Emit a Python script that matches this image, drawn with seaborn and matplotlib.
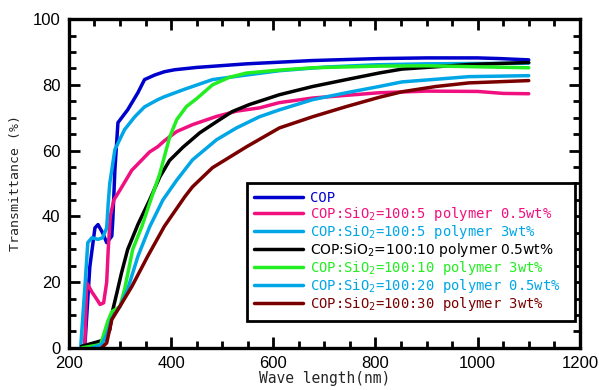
import matplotlib
matplotlib.use("Agg")
import matplotlib.pyplot as plt
import seaborn as sns
from matplotlib.ticker import MultipleLocator

# COP
cop_wl = [225, 231, 241, 251, 257, 266, 274, 284, 286, 290, 296, 315, 335, 348, 368, 387, 407, 450, 548, 677, 807, 900, 1000, 1042, 1100]
cop_t = [0, 0, 24.7, 36.5, 37.5, 35, 32, 34, 39, 54, 68.5, 72.4, 77.6, 81.6, 83, 84, 84.6, 85.3, 86.4, 87.4, 88.0, 88.2, 88.2, 88.0, 87.6]

# COP:SiO2=100:5 polymer 0.5wt%
p5a_wl = [231, 235, 245, 255, 261, 268, 274, 277, 281, 288, 300, 323, 348, 358, 374, 387, 411, 442, 489, 528, 573, 612, 677, 807, 900, 1000, 1050, 1100]
p5a_t = [0, 19.8, 17, 14.7, 13.2, 13.7, 20, 30, 40, 45, 48, 54, 58, 59.6, 61.2, 63, 65.8, 67.9, 70.4, 72, 73, 74.6, 76, 77.6, 78.1, 78, 77.4, 77.3]

# COP:SiO2=100:5 polymer 3wt%
p5b_wl = [223, 232, 237, 245, 257, 266, 274, 277, 280, 290, 309, 329, 348, 374, 387, 427, 481, 548, 612, 700, 800, 900, 1000, 1100]
p5b_t = [0, 20, 32, 33.5, 33, 33.5, 36.5, 44, 50, 60.3, 66.4, 70.3, 73.3, 75.5, 76.4, 78.7, 81.6, 83, 84.3, 85.4, 86.1, 86.4, 86.5, 86.6]

# COP:SiO2=100:10 polymer 0.5wt%
p10a_wl = [225, 251, 270, 280, 286, 294, 303, 315, 335, 358, 378, 397, 423, 456, 489, 520, 553, 612, 677, 743, 807, 852, 918, 983, 1100]
p10a_t = [0.5, 1.6, 2.5, 5.5, 11.6, 16.8, 22.8, 29.9, 37.5, 45, 52, 57, 61, 65.4, 68.8, 71.9, 74, 77, 79.5, 81.6, 83.6, 84.8, 85.5, 86.2, 86.8]

# COP:SiO2=100:10 polymer 3wt%
p10b_wl = [225, 262, 276, 284, 300, 309, 325, 343, 358, 378, 397, 411, 430, 450, 481, 514, 548, 612, 677, 807, 900, 1000, 1100]
p10b_t = [0, 1, 8, 11, 12.6, 17.8, 30, 37, 44, 53, 64, 69.4, 73.4, 75.8, 80, 82.3, 83.6, 84.5, 85.2, 85.7, 85.8, 85.5, 85.2]

# COP:SiO2=100:20 polymer 0.5wt%
p20_wl = [245, 264, 274, 284, 300, 315, 335, 358, 384, 411, 442, 489, 528, 573, 612, 677, 743, 807, 852, 918, 983, 1100]
p20_t = [0, 1, 4, 9, 12.6, 17.8, 27.8, 36.8, 45, 51, 57.2, 63.3, 66.9, 70.3, 72.4, 75.5, 77.6, 79.5, 80.9, 81.7, 82.5, 82.8]

# COP:SiO2=100:30 polymer 3wt%
p30_wl = [264, 274, 284, 304, 323, 354, 387, 427, 442, 481, 548, 612, 677, 743, 807, 852, 918, 983, 1100]
p30_t = [0, 1.5, 8.6, 13.7, 18.6, 27.8, 37, 46, 49, 54.8, 61.2, 66.9, 70.3, 73.4, 76.2, 77.9, 79.5, 80.6, 81.3]

labels = [
    "COP",
    "COP:SiO$_2$=100:5 polymer 0.5wt%",
    "COP:SiO$_2$=100:5 polymer 3wt%",
    "COP:SiO$_2$=100:10 polymer 0.5wt%",
    "COP:SiO$_2$=100:10 polymer 3wt%",
    "COP:SiO$_2$=100:20 polymer 0.5wt%",
    "COP:SiO$_2$=100:30 polymer 3wt%",
]
colors = ["#0000CC", "#F0107F", "#00A6E6", "#000000", "#22EE22", "#00A6E6", "#7A0000"]

series = [(cop_wl, cop_t), (p5a_wl, p5a_t), (p5b_wl, p5b_t), (p10a_wl, p10a_t),
          (p10b_wl, p10b_t), (p20_wl, p20_t), (p30_wl, p30_t)]

sns.set_style("ticks")
plt.rcParams['font.family'] = ['Liberation Sans', 'DejaVu Sans']

fig = plt.figure(figsize=(5.99, 3.90), dpi=100)
ax = fig.add_axes([0.115, 0.108, 0.853, 0.843])

for (wl, t), lab, col in zip(series, labels, colors):
    sns.lineplot(x=wl, y=t, ax=ax, color=col, lw=2.5, label=lab,
                 sort=False, estimator=None)

ax.set_xlim(200, 1200)
ax.set_ylim(0, 100)
ax.xaxis.set_major_locator(MultipleLocator(200))
ax.xaxis.set_minor_locator(MultipleLocator(50))
ax.yaxis.set_major_locator(MultipleLocator(20))
ax.yaxis.set_minor_locator(MultipleLocator(5))
ax.tick_params(which='both', direction='in', top=True, right=True, width=2, labelsize=12, colors='black')
ax.tick_params(which='major', length=8, pad=6)
ax.tick_params(which='minor', length=5)
for s in ax.spines.values():
    s.set_linewidth(2.4)
    s.set_color('black')

ax.set_xlabel("Wave length(nm)", family='DejaVu Sans Mono', fontsize=10.5, labelpad=0)
ax.set_ylabel("Transmittance (%)", family='DejaVu Sans Mono', fontsize=9.5, labelpad=8)

leg = ax.legend(loc='upper left', bbox_to_anchor=(0.348, 0.091, 0.642, 0.409), mode='expand',
                borderaxespad=0, fancybox=False, frameon=True, framealpha=1, handlelength=3.5,
                handletextpad=0.5, labelspacing=0.0, borderpad=0.55,
                prop={'family': 'DejaVu Sans Mono', 'size': 10})
leg.get_frame().set_edgecolor('black')
leg.get_frame().set_linewidth(2)
for txt, col in zip(leg.get_texts(), colors):
    txt.set_color(col)
leg.get_texts()[3].set_family('DejaVu Sans')

fig.savefig("out.png", dpi=100)
